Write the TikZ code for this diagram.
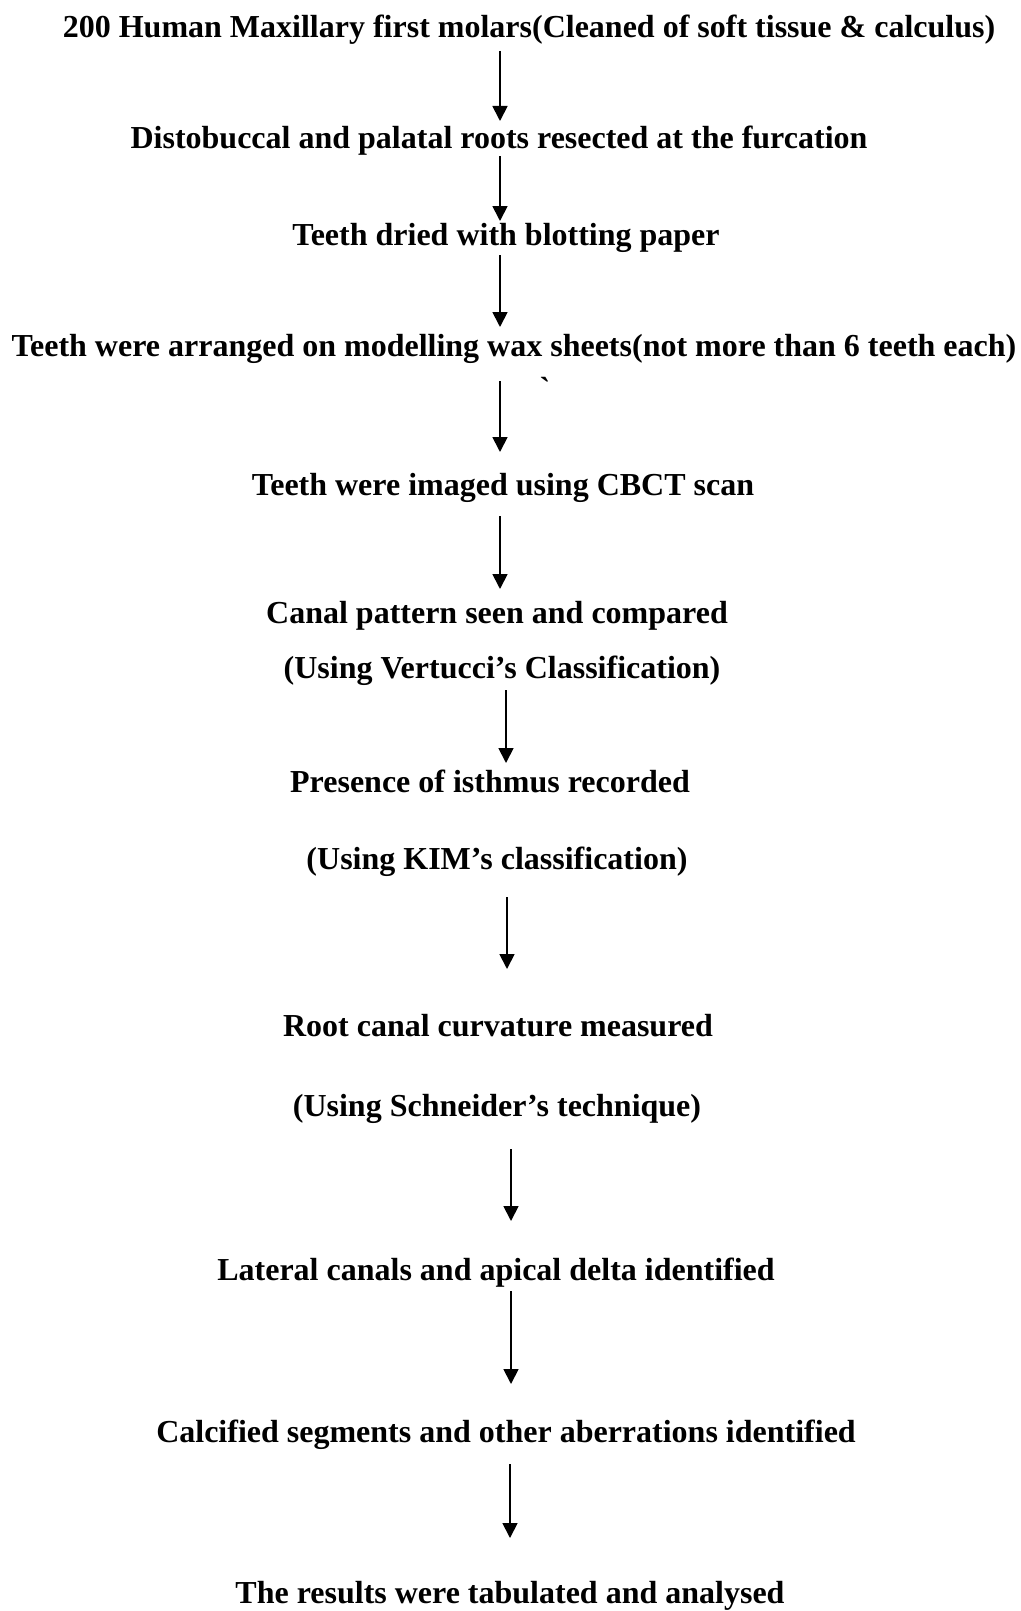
\documentclass[tikz,border=0pt]{standalone}
\usepackage{fontspec}
\setmainfont{Liberation Serif}
\newfontfamily\gravefont{Liberation Serif}[Ligatures=ResetAll]
\usepackage{tikz}
\usetikzlibrary{arrows.meta,positioning}
\tikzset{
step text/.style={inner sep=0pt, font=\fontsize{16}{18}\selectfont\bfseries}, % every line of the flow chart
flow/.style={-{Triangle[length=7.5pt,width=7.5pt]}, line width=0.9pt}, % the down arrows
}

\begin{document}
\begin{tikzpicture}[x=0.5pt,y=-0.5pt]
   \useasboundingbox (0,0) rectangle (1021,1611);
   \node[step text] (st_1)  at (529,30)   {200 Human Maxillary first molars(Cleaned of soft tissue \& calculus)};
   \node[step text] (st_2)  at (499,141)  {Distobuccal and palatal roots resected at the furcation};
   \node[step text] (st_3)  at (506,238)  {Teeth dried with blotting paper};
   \node[step text] (st_4)  at (514,349)  {Teeth were arranged on modelling wax sheets(not more than 6 teeth each)};
   \node[step text] (tick)  at (545,388)  {\gravefont\symbol{"60}};
   \node[step text] (st_5)  at (503,488)  {Teeth were imaged using CBCT scan};
   \node[step text] (st_6)  at (497,616)  {Canal pattern seen and compared};
   \node[step text] (st_6b) at (502,671)  {(Using Vertucci’s Classification)};
   \node[step text] (st_7)  at (490,781)  {Presence of isthmus recorded};
   \node[step text] (st_7b) at (497,862)  {(Using KIM’s classification)};
   \node[step text] (st_8)  at (498,1026) {Root canal curvature measured};
   \node[step text] (st_8b) at (497,1109) {(Using Schneider’s technique)};
   \node[step text] (st_9)  at (496,1273) {Lateral canals and apical delta identified};
   \node[step text] (st_10) at (506,1435) {Calcified segments and other aberrations identified};
   \node[step text, anchor=base] (st_11) at (510,1603) {The results were tabulated and analysed};
   % arrow ends
   \foreach \i/\x/\ya/\yb in {1/500/51/121, 2/500/156/221, 3/500/255/327, 4/500/381/452,
      5/500/516/589, 6/506/690/763, 7/507/897/969, 8/511/1149/1221, 9/511/1291/1384, 10/510/1464/1538}{
      \coordinate (a_\i) at (\x,\ya);
      \coordinate (b_\i) at (\x,\yb);
      \draw[flow] (a_\i) -- (b_\i);
   }
\end{tikzpicture}
\end{document}
